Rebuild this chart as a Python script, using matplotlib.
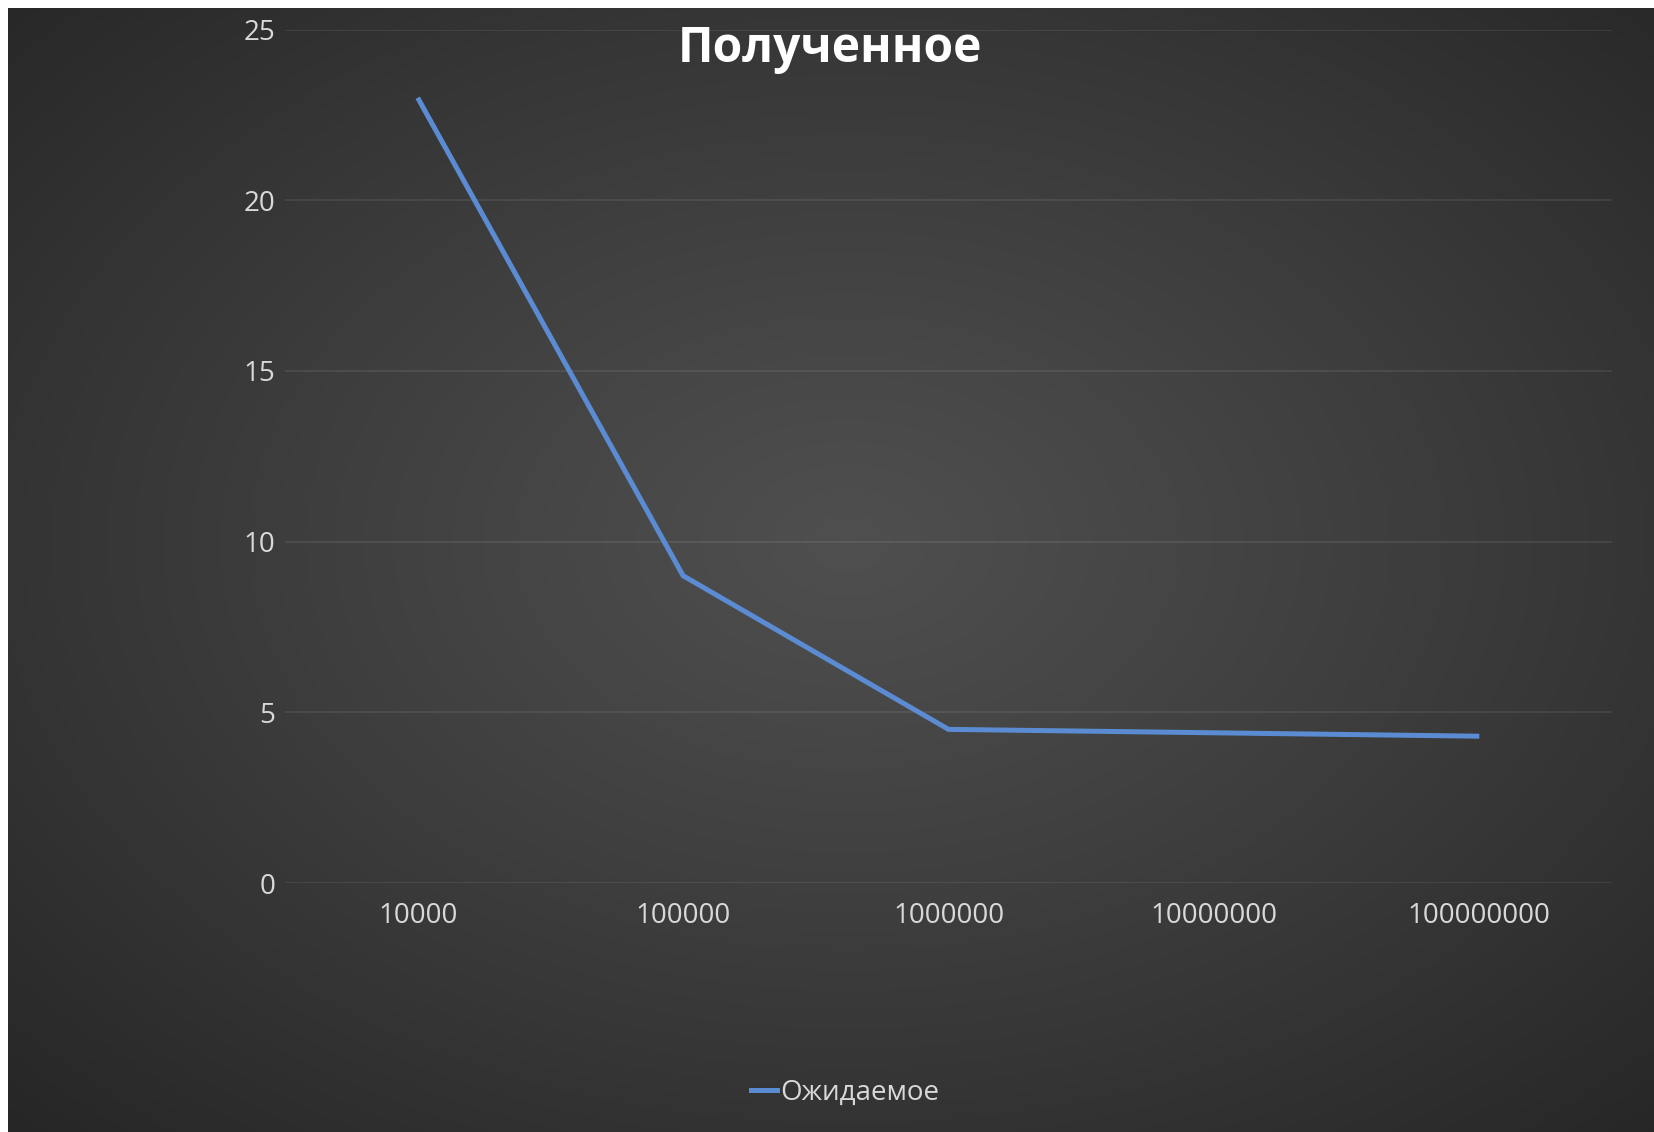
import numpy as np
import matplotlib
matplotlib.use('Agg')
from matplotlib import pyplot as plt
from matplotlib.lines import Line2D

# values
categories = ['10000', '100000', '1000000', '10000000', '100000000']
values = [23, 9, 4.5, 4.4, 4.3]
y_ticks = [0, 5, 10, 15, 20, 25]
title = 'Полученное'
series_name = 'Ожидаемое'

plt.rcParams['font.family'] = ['Open Sans', 'DejaVu Sans']

W, H = 1654, 1132
fig = plt.figure(figsize=(W / 100, H / 100), dpi=100)
fig.patch.set_facecolor('white')

# radial gradient background, white strip on top and left like the screenshot
bg = fig.add_axes([8 / W, -0.01, 1 - 8 / W + 0.01, 1 - 8 / H + 0.01])
yy, xx = np.mgrid[0:400, 0:600]
cx, cy = 300 * 830 / 823, 400 * 0.47
r = np.sqrt(((xx - cx) / 600) ** 2 + ((yy - cy) / 400) ** 2)
r = np.clip(r / 0.72, 0, 1)
shade = 0.31 - 0.16 * r ** 1.1
bg.imshow(np.dstack([shade, shade, shade]), aspect='auto', interpolation='bilinear')
bg.axis('off')

ax = fig.add_axes([285 / W, 1 - 883 / H, 1327 / W, 853.5 / H])
ax.patch.set_alpha(0)
x = np.arange(len(categories))
ax.plot(x, values, color='#5b8cd3', lw=3.6, solid_capstyle='butt', solid_joinstyle='miter', zorder=3)

ax.set_xlim(-0.5, len(categories) - 0.5)
ax.set_ylim(0, 25)
ax.set_yticks(y_ticks)
ax.set_xticks(x)
ax.set_xticklabels(categories)
ax.grid(axis='y', color='white', alpha=0.08, lw=1.5)
ax.set_axisbelow(True)
for s in ax.spines.values():
    s.set_visible(False)
ax.tick_params(length=0, colors='#d9d9d9', labelsize=20)
ax.tick_params(axis='x', pad=14)
ax.tick_params(axis='y', pad=7)

fig.text(0.502, 1 - 49 / H, title, ha='center', va='center', fontsize=34.5,
         fontweight='bold', color='white')

handle = [Line2D([0], [0], color='#5b8cd3', lw=3.6)]
fig.legend(handle, [series_name], loc='center', bbox_to_anchor=(845 / W, 1 - 1093 / H),
           frameon=False, fontsize=20, labelcolor='#d9d9d9', handlelength=0.95,
           handletextpad=0.1)

fig.savefig('out.png', dpi=100, facecolor=fig.get_facecolor())
